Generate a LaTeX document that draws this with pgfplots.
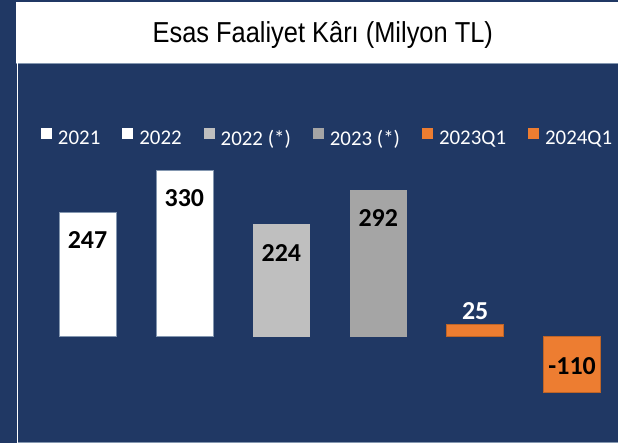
\documentclass[border=0pt]{standalone}
\usepackage{pgfplots}
\pgfplotsset{compat=1.18}
\usepackage{fontspec}
\setmainfont{Carlito}
\newfontfamily\titlefont[FakeStretch=0.88]{Liberation Sans}
\definecolor{navy}{HTML}{203864}
\definecolor{g1}{HTML}{BFBFBF}
\definecolor{g2}{HTML}{A5A5A5}
\definecolor{org}{HTML}{ED7D31}
\definecolor{edge}{HTML}{8497B0}
\begin{document}
\begin{tikzpicture}
\fill[navy] (0,0) rectangle (618bp,443bp);
\fill[white] (16bp,380bp) rectangle (618bp,440.5bp);
\draw[edge, line width=0.8bp] (16bp,380bp) -- (618bp,380bp);
\fill[white] (16.6bp,0) rectangle (17.8bp,380bp);
\draw[edge, line width=0.8bp] (17.8bp,0.8bp) -- (618bp,0.8bp);
\node[font=\titlefont\fontsize{29}{32}\selectfont, anchor=base, inner sep=0pt] at (323bp,400bp) {Esas Faaliyet Kârı (Milyon TL)};
\begin{axis}[
  at={(48.7bp,30.4bp)}, anchor=south west,
  scale only axis, width=562.6bp, height=277.2bp,
  xmin=-0.4, xmax=5.4, ymin=-150, ymax=400,
  hide axis, clip=false,
  ybar, bar width=57bp, bar shift=0pt,
  point meta=explicit symbolic,
  nodes near coords,
  every node near coord/.append style={font=\bfseries\fontsize{26}{30}\selectfont, text=black, anchor=center},
  legend columns=6,
  legend style={at={(-0.0137,0.9924)}, anchor=west, draw=none, fill=none,
    inner sep=0pt, outer sep=0pt, font=\fontsize{21}{24}\selectfont, text=white,
    /tikz/every odd column/.append style={column sep=6bp},
    /tikz/every even column/.append style={column sep=22bp},
    nodes={inner sep=0pt}},
  legend image code/.code={\fill[#1,draw=none] (0bp,0bp) rectangle (11bp,11bp);},
]
\addplot[fill=white, draw=edge, line width=0.6bp, every node near coord/.append style={yshift=-28bp}] coordinates {(0,247) [247]};
\addlegendentry{2021}
\addplot[fill=white, draw=edge, line width=0.6bp, every node near coord/.append style={yshift=-28bp}] coordinates {(1,330) [330]};
\addlegendentry{2022}
\addplot[fill=g1, draw=none, every node near coord/.append style={yshift=-29bp}] coordinates {(2,224) [224]};
\addlegendentry{2022 (*)}
\addplot[fill=g2, draw=none, every node near coord/.append style={yshift=-28bp}] coordinates {(3,292) [292]};
\addlegendentry{2023 (*)}
\addplot[fill=org, draw=org!80!black, line width=0.6bp, every node near coord/.append style={yshift=13bp, text=white}] coordinates {(4,25) [25]};
\addlegendentry{2023Q1}
\addplot[fill=org, draw=org!80!black, line width=0.6bp, every node near coord/.append style={yshift=26bp}] coordinates {(5,-110) [-110]};
\addlegendentry{2024Q1}
\end{axis}
\end{tikzpicture}
\end{document}
